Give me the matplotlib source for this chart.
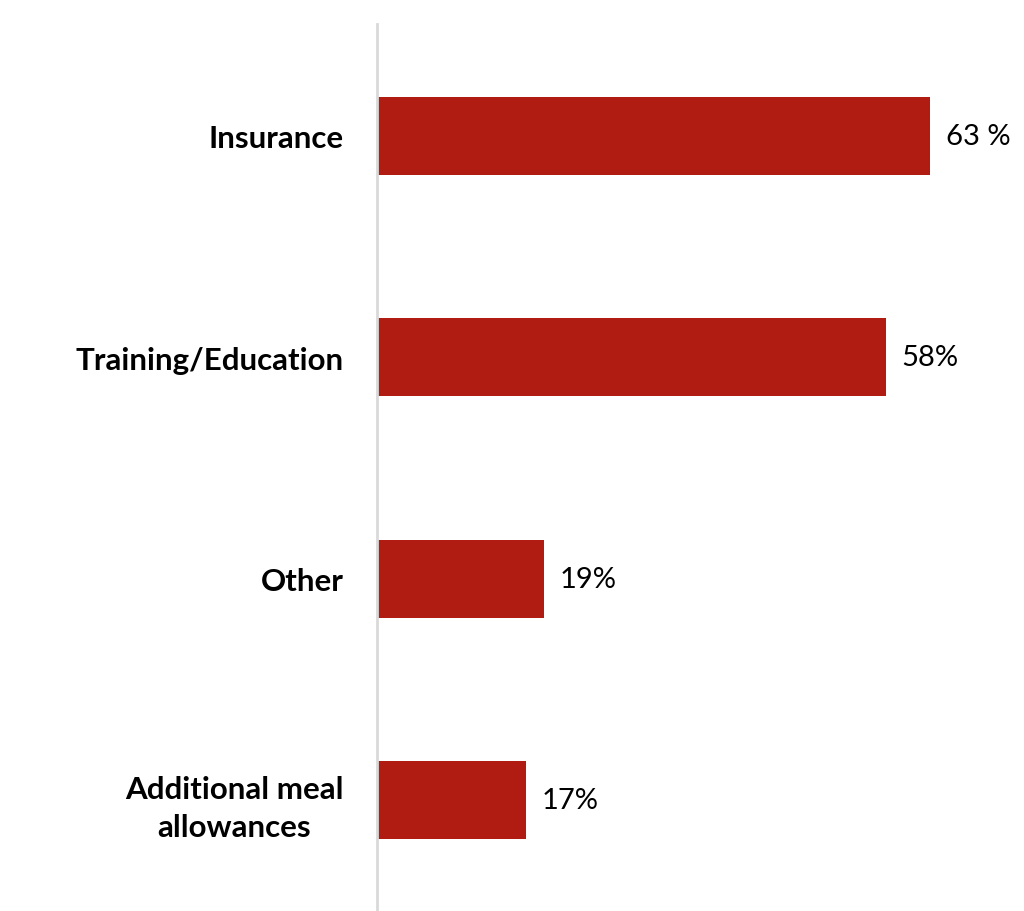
import matplotlib
matplotlib.use("Agg")
import matplotlib.pyplot as plt

categories = ["Insurance", "Training/Education", "Other", "Additional meal\nallowances"]
values = [63, 58, 19, 17]
value_labels = ["63 %", "58%", "19%", "17%"]

bar_color = "#B01C12"
font = ["Lato", "DejaVu Sans"]

fig = plt.figure(figsize=(10.24, 9.12), dpi=100)
ax = fig.add_axes([377/1024, 0.0, 1 - 377/1024, 1 - 25/912])

ypos = list(range(len(categories)))
ax.barh(ypos, values, height=0.352, color=bar_color, zorder=2)
ax.set_ylim(3.5, -0.505)
ax.set_xlim(0, 647/8.78)

for y, v, lab in zip(ypos, values, value_labels):
    ax.text(v + 1.75, y, lab, va="center", ha="left", fontsize=21,
            family=font, color="#000000")

ax.set_yticks(ypos)
ax.set_yticklabels(categories, fontsize=22.5, fontweight="bold", family=font,
                   linespacing=1.45, multialignment="center")
ax.tick_params(axis="y", length=0, pad=24)
ax.set_xticks([])
for s in ["top", "right", "bottom"]:
    ax.spines[s].set_visible(False)
ax.spines["left"].set_color("#D9D9D9")
ax.spines["left"].set_linewidth(2)

fig.savefig("out.png", dpi=100, facecolor="white")
